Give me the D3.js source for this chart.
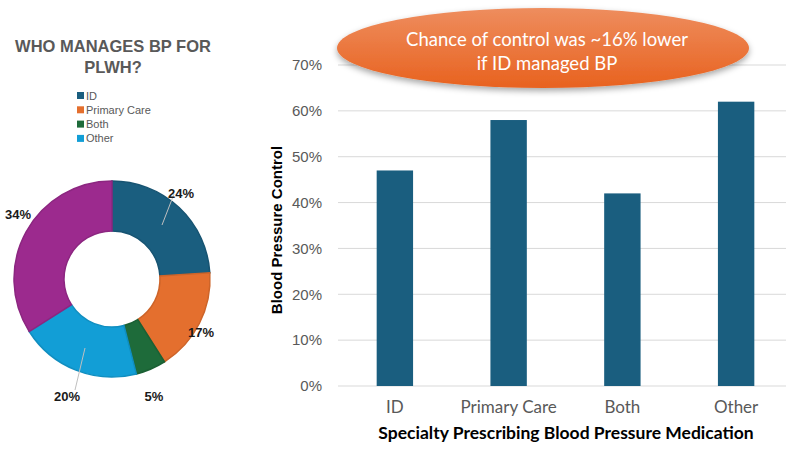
<!DOCTYPE html>
<html>
<head>
<meta charset="utf-8">
<script src="https://cdn.jsdelivr.net/npm/d3@7"></script>
<style>
  body { margin: 0; background: #fff; }
  svg { display: block; }
</style>
</head>
<body>
<svg id="chart" width="800" height="450"></svg>
<script>
// donut data
const pieLabels = ["ID", "Primary Care", "Both", "Other", "Unlisted"];
const pieValues = [24, 17, 5, 20, 34];
const pieColors = ["#1a5e7f", "#e46f2e", "#1e6b3a", "#129ed6", "#9c2a8e"];
const legendLabels = ["ID", "Primary Care", "Both", "Other"];

// bar data
const barCategories = ["ID", "Primary Care", "Both", "Other"];
const barValues = [0.47, 0.58, 0.42, 0.62];
const yTicks = [0, 0.1, 0.2, 0.3, 0.4, 0.5, 0.6, 0.7];

const svg = d3.select("#chart");

// ---------- left: donut ----------
const title = svg.append("text")
    .attr("text-anchor", "middle")
    .attr("font-family", "Liberation Sans, Arial, sans-serif")
    .attr("font-weight", "bold")
    .attr("font-size", 16.5)
    .attr("fill", "#595959");
title.append("tspan").attr("x", 113).attr("y", 52).text("WHO MANAGES BP FOR");
title.append("tspan").attr("x", 113).attr("y", 73).text("PLWH?");

const legend = svg.append("g").attr("transform", "translate(77,90)");
legendLabels.forEach((lab, i) => {
    const row = legend.append("g").attr("transform", `translate(0,${i * 14.3})`);
    row.append("rect").attr("width", 7).attr("height", 7).attr("y", 2).attr("fill", pieColors[i]);
    row.append("text").attr("x", 9).attr("y", 9.5)
        .attr("font-family", "Liberation Sans, Arial, sans-serif")
        .attr("font-size", 11).attr("fill", "#595959").text(lab);
});

const cx = 112, cy = 279, rOuter = 98, rInner = 48;
const pie = d3.pie().sort(null).value(d => d)(pieValues);
const arc = d3.arc().innerRadius(rInner).outerRadius(rOuter);
const donut = svg.append("g").attr("transform", `translate(${cx},${cy})`);
donut.selectAll("path").data(pie).enter().append("path")
    .attr("d", arc)
    .attr("fill", (d, i) => pieColors[i])
    .attr("stroke", (d, i) => d3.color(pieColors[i]).darker(0.3))
    .attr("stroke-width", 1.5);

// label positions (offsets from centre)
const labelPos = [[69, -84], [89, 55], [42, 119], [-45, 119], [-94, -63]];
const leaders = [[[50, -54], [62, -85]], null, null, [[-27, 69], [-37, 111]], null];
pie.forEach((d, i) => {
    if (leaders[i]) {
        donut.append("line")
            .attr("x1", leaders[i][0][0]).attr("y1", leaders[i][0][1])
            .attr("x2", leaders[i][1][0]).attr("y2", leaders[i][1][1])
            .attr("stroke", "#bfbfbf").attr("stroke-width", 1);
    }
    donut.append("text")
        .attr("x", labelPos[i][0]).attr("y", labelPos[i][1])
        .attr("text-anchor", "middle")
        .attr("dominant-baseline", "middle")
        .attr("font-family", "Liberation Sans, Arial, sans-serif")
        .attr("font-weight", "bold").attr("font-size", 13)
        .attr("fill", "#1a1a1a")
        .text(pieValues[i] + "%");
});

// ---------- right: bar chart ----------
const x0 = 338, x1 = 793, yTop = 65, yBot = 386;
const x = d3.scaleBand().domain(barCategories).range([x0, x1]).paddingInner(0.68).paddingOuter(0.34);
const y = d3.scaleLinear().domain([0, 0.7]).range([yBot, yTop]);

const grid = svg.append("g");
grid.selectAll("line").data(yTicks).enter().append("line")
    .attr("x1", x0).attr("x2", 786)
    .attr("y1", d => y(d)).attr("y2", d => y(d))
    .attr("stroke", "#d9d9d9").attr("stroke-width", 1);

const yAxis = svg.append("g").attr("transform", `translate(${x0},0)`)
    .call(d3.axisLeft(y).tickValues(yTicks).tickFormat(d3.format(".0%")).tickSize(0).tickPadding(16));
yAxis.select(".domain").remove();
yAxis.selectAll("text")
    .attr("font-family", "Liberation Sans, Arial, sans-serif")
    .attr("font-size", 15).attr("fill", "#595959");

svg.append("g").selectAll("rect").data(barValues).enter().append("rect")
    .attr("x", (d, i) => x(barCategories[i]))
    .attr("width", x.bandwidth())
    .attr("y", d => y(d))
    .attr("height", d => yBot - y(d))
    .attr("fill", "#1a5e7f");

const xAxis = svg.append("g").attr("transform", `translate(0,${yBot})`)
    .call(d3.axisBottom(x).tickSize(0).tickPadding(15));
xAxis.select(".domain").remove();
xAxis.selectAll("text")
    .attr("font-family", "Lato, 'Open Sans', sans-serif")
    .attr("font-size", 17).attr("fill", "#595959");

svg.append("text")
    .attr("x", 566).attr("y", 439)
    .attr("text-anchor", "middle")
    .attr("font-family", "Lato, 'Open Sans', sans-serif")
    .attr("font-weight", "bold").attr("font-size", 17.5).attr("fill", "#000")
    .text("Specialty Prescribing Blood Pressure Medication");

svg.append("text")
    .attr("transform", "translate(282,230) rotate(-90)")
    .attr("text-anchor", "middle")
    .attr("font-family", "Liberation Sans, Arial, sans-serif")
    .attr("font-weight", "bold").attr("font-size", 15).attr("fill", "#000")
    .text("Blood Pressure Control");

// ---------- callout ellipse ----------
const defs = svg.append("defs");
const grad = defs.append("linearGradient").attr("id", "og").attr("x1", 0).attr("y1", 0).attr("x2", 0).attr("y2", 1);
grad.append("stop").attr("offset", "0%").attr("stop-color", "#ee8d5e");
grad.append("stop").attr("offset", "100%").attr("stop-color", "#e8621f");
const shadow = defs.append("filter").attr("id", "sh").attr("x", "-10%").attr("y", "-20%").attr("width", "120%").attr("height", "150%");
shadow.append("feDropShadow").attr("dx", 0).attr("dy", 3).attr("stdDeviation", 3).attr("flood-color", "#000").attr("flood-opacity", 0.35);

svg.append("ellipse")
    .attr("cx", 543).attr("cy", 48).attr("rx", 206).attr("ry", 40)
    .attr("fill", "url(#og)").attr("filter", "url(#sh)");

const call = svg.append("text")
    .attr("text-anchor", "middle")
    .attr("font-family", "Lato, 'Open Sans', sans-serif")
    .attr("font-size", 18.5).attr("fill", "#fff");
call.append("tspan").attr("x", 547).attr("y", 46).text("Chance of control was ~16% lower");
call.append("tspan").attr("x", 547).attr("y", 70).text("if ID managed BP");
</script>
</body>
</html>
